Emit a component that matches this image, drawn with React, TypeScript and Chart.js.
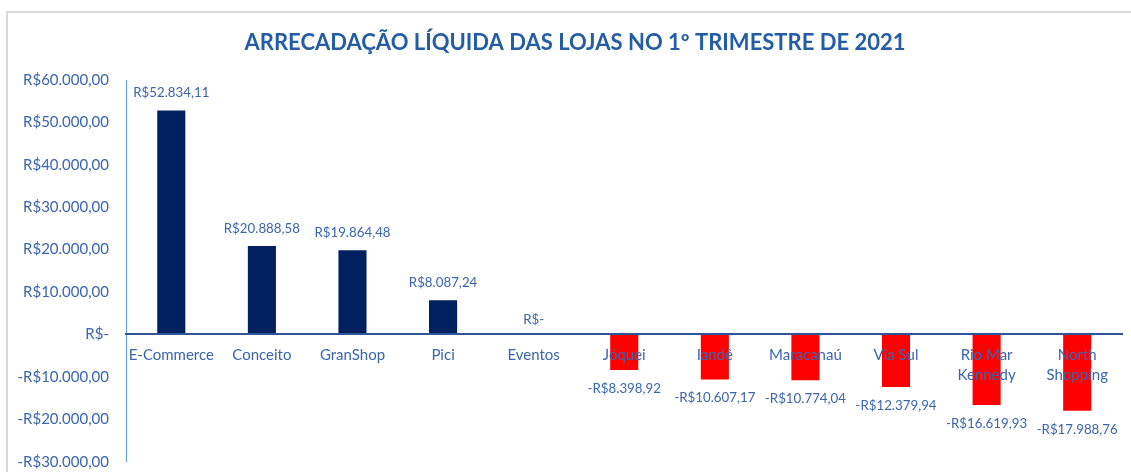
import React, { useEffect, useRef } from 'react';
import { Chart, registerables } from 'chart.js';

Chart.register(...registerables);

const titleText = 'ARRECADAÇÃO LÍQUIDA DAS LOJAS NO 1º TRIMESTRE DE 2021';

const categories: (string | string[])[] = [
  'E-Commerce',
  'Conceito',
  'GranShop',
  'Pici',
  'Eventos',
  'Jóquei',
  'Iandê',
  'Maracanaú',
  'Via Sul',
  ['Rio Mar', 'Kennedy'],
  ['North', 'Shopping'],
];

const values: number[] = [
  52834.11, 20888.58, 19864.48, 8087.24, 0, -8398.92, -10607.17, -10774.04, -12379.94, -16619.93, -17988.76,
];

const yMin = -30000;
const yMax = 60000;
const yStep = 10000;

const positiveColor = '#002060';
const negativeColor = '#FF0000';
const textBlue = '#3A66AE';
const titleBlue = '#245DA6';
const FONT = "Lato, 'Open Sans', sans-serif";

function brl(v: number): string {
  if (v === 0) return 'R$-';
  const abs = Math.abs(v);
  const [intPart, dec] = abs.toFixed(2).split('.');
  const withDots = intPart.replace(/\B(?=(\d{3})+(?!\d))/g, '.');
  return (v < 0 ? '-' : '') + 'R$' + withDots + ',' + dec;
}

const framePlugin = {
  id: 'frame',
  afterLayout(chart: any) {
    // centre the title over the whole chart frame (which extends past the right edge)
    const tb = chart.titleBlock;
    if (tb) {
      tb.left += 13.75;
      tb.right += 13.75;
    }
  },
  beforeDraw(chart: any) {
    const ctx = chart.ctx;
    ctx.save();
    ctx.fillStyle = '#FFFFFF';
    ctx.fillRect(0, 0, chart.width, chart.height);
    ctx.fillStyle = '#D9D9D9';
    ctx.fillRect(6, 11, chart.width, 2);
    ctx.fillRect(6, 11, 2, chart.height);
    ctx.restore();
  },
};

const valueLabelPlugin = {
  id: 'valueLabels',
  afterDatasetsDraw(chart: any) {
    const ctx = chart.ctx;
    const meta = chart.getDatasetMeta(0);
    const data = chart.data.datasets[0].data as number[];
    ctx.save();
    ctx.font = `13.3px ${FONT}`;
    ctx.fillStyle = textBlue;
    ctx.textAlign = 'center';
    ctx.textBaseline = 'middle';
    meta.data.forEach((el: any, i: number) => {
      const v = data[i];
      let y: number;
      if (v > 0) y = el.y - 17.5;
      else if (v < 0) y = el.y + 18.5;
      else y = el.y - 15;
      ctx.fillText(brl(v), el.x, y);
    });
    ctx.restore();
  },
};

export default function App() {
  const canvasRef = useRef<HTMLCanvasElement | null>(null);

  useEffect(() => {
    if (!canvasRef.current) return;
    const chart = new Chart(canvasRef.current, {
      type: 'bar',
      data: {
        labels: categories,
        datasets: [
          {
            data: values,
            backgroundColor: values.map((v) => (v >= 0 ? positiveColor : negativeColor)),
            borderWidth: 0,
            barPercentage: 0.31,
            categoryPercentage: 1,
          },
        ],
      },
      options: {
        responsive: false,
        animation: false,
        layout: { autoPadding: false, padding: { left: 0, right: 8.5, top: 0, bottom: 10.3 } },
        plugins: {
          legend: { display: false },
          tooltip: { enabled: false },
          title: {
            display: true,
            text: titleText,
            color: titleBlue,
            font: { family: FONT, size: 22, weight: 'bold', lineHeight: 1.2 },
            padding: { top: 29.4, bottom: 24.2 },
          },
        },
        scales: {
          x: {
            position: { y: 0 } as any,
            offset: true,
            grid: { display: false, drawTicks: false },
            border: { display: true, color: '#2F5597', width: 2, z: 1 },
            ticks: {
              autoSkip: false,
              maxRotation: 0,
              minRotation: 0,
              color: textBlue,
              padding: 11,
              z: 1,
              font: { family: FONT, size: 15, lineHeight: 20 / 15 },
            },
          },
          y: {
            min: yMin,
            max: yMax,
            afterFit: (scale: any) => {
              scale.width = 126;
              scale.paddingTop = 0;
              scale.paddingBottom = 0;
            },
            grid: { display: false, drawTicks: false },
            border: { display: true, color: '#5B9BD5', width: 1 },
            ticks: {
              stepSize: yStep,
              autoSkip: false,
              color: textBlue,
              padding: 17,
              font: { family: FONT, size: 15 },
              callback: (v: any) => brl(Number(v)),
            },
          },
        },
      },
      plugins: [framePlugin, valueLabelPlugin],
    });
    return () => chart.destroy();
  }, []);

  return (
    <div style={{ position: 'absolute', left: 0, top: 0, width: 1131, height: 472 }}>
      <canvas ref={canvasRef} width={1131} height={472} style={{ display: 'block' }} />
    </div>
  );
}
